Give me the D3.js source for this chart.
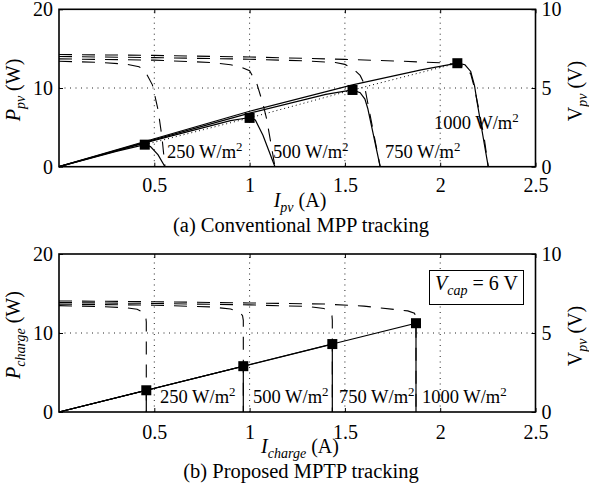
<!DOCTYPE html>
<html>
<head>
<meta charset="utf-8">
<script src="https://cdn.jsdelivr.net/npm/d3@7"></script>
<style>
  body { margin: 0; background: #fff; }
  text { font-family: "Liberation Serif", "Times New Roman", serif; fill: #000; white-space: pre; }
</style>
</head>
<body>
<div class="chart"></div>
<script>
// ticks
const xTicks = [0.5, 1, 1.5, 2, 2.5];
const pTicks = [0, 10, 20];
const vTicks = [0, 5, 10];
const gridX = [0.5, 1, 1.5, 2];
const gridP = [10];
const irradiance = ["250", "500", "750", "1000"];

// (a) conventional MPP tracking, power curves [I (A), P (W)]
const pConv250 = [[0, 0], [0.3, 1.95], [0.45, 2.8], [0.48, 2.55], [0.52, 1.5], [0.556, 0]];
const pConv500 = [[0, 0], [0.5, 3.35], [0.9, 5.85], [1.0, 6.25], [1.03, 5.95], [1.07, 4.0], [1.133, 0]];
const pConv750 = [[0, 0], [0.5, 3.45], [1.0, 6.8], [1.4, 9.2], [1.54, 9.75], [1.58, 9.4], [1.605, 8.6], [1.62, 7.4], [1.685, 0]];
const pConv1000 = [[0, 0], [0.5, 3.55], [1.0, 7.05], [1.54, 10.4], [1.9, 12.3], [2.09, 13.15], [2.13, 12.95], [2.16, 12.1], [2.18, 10.3], [2.195, 8.0], [2.252, 0]];
// voltage curves [I (A), V (V)]
const vConv250 = [[0, 6.7], [0.2, 6.63], [0.35, 6.52], [0.42, 6.35], [0.45, 6.1], [0.49, 5.2], [0.52, 3.6], [0.54, 1.9], [0.556, 0]];
const vConv500 = [[0, 6.85], [0.5, 6.77], [0.8, 6.62], [0.9, 6.48], [0.96, 6.3], [1.0, 6.1], [1.04, 5.2], [1.07, 4.0], [1.09, 3.0], [1.133, 0]];
const vConv750 = [[0, 7.0], [0.5, 6.93], [1.0, 6.83], [1.3, 6.72], [1.45, 6.62], [1.5, 6.5], [1.54, 6.25], [1.58, 5.8], [1.6, 5.3], [1.64, 2.8], [1.685, 0]];
const vConv1000 = [[0, 7.13], [0.5, 7.07], [1.0, 6.97], [1.5, 6.82], [1.8, 6.7], [2.0, 6.6], [2.09, 6.5], [2.13, 6.35], [2.16, 5.9], [2.18, 5.0], [2.2, 3.8], [2.23, 1.9], [2.252, 0]];
const mppConvI = [0.45, 1.0, 1.54, 2.09];
const mppConvP = [2.8, 6.2, 9.75, 13.15];

// (b) proposed MPTP tracking
const pProp250 = [[0, 0], [0.458, 2.75], [0.458, 0]];
const pProp500 = [[0, 0], [0.967, 5.8], [0.967, 0]];
const pProp750 = [[0, 0], [1.434, 8.6], [1.434, 0]];
const pProp1000 = [[0, 0], [1.873, 11.24], [1.873, 0]];
const vProp250 = [[0, 6.73], [0.2, 6.68], [0.35, 6.6], [0.41, 6.5], [0.44, 6.32], [0.455, 6.05], [0.458, 5.7], [0.458, 0]];
const vProp500 = [[0, 6.83], [0.5, 6.76], [0.8, 6.65], [0.9, 6.52], [0.945, 6.35], [0.963, 6.1], [0.967, 5.8], [0.967, 0]];
const vProp750 = [[0, 6.93], [0.5, 6.87], [1.0, 6.78], [1.3, 6.68], [1.39, 6.55], [1.42, 6.35], [1.432, 6.1], [1.434, 5.8], [1.434, 0]];
const vProp1000 = [[0, 7.03], [0.5, 6.98], [1.0, 6.9], [1.4, 6.83], [1.6, 6.7], [1.83, 6.4], [1.865, 6.25], [1.873, 6.0], [1.873, 0]];
const mptpI = [0.458, 0.967, 1.434, 1.873];
const mptpP = [2.75, 5.8, 8.6, 11.24];

const width = 589;
const height = 489;
const fs = 20;

const svg = d3.select(".chart").append("svg")
  .attr("width", width)
  .attr("height", height);

function rich(sel, parts, size) {
  let shift = 0;
  parts.forEach(function(p) {
    const s = p.sub ? size * 0.27 : p.sup ? -size * 0.4 : 0;
    const ts = sel.append("tspan").text(p.t)
      .attr("dy", s - shift)
      .attr("font-size", (p.sub || p.sup) ? size * 0.7 : size);
    if (p.it) ts.attr("font-style", "italic");
    shift = s;
  });
}

function panel(o) {
  const x = d3.scaleLinear().domain([0, 2.5]).range([59, 535.5]);
  const y = d3.scaleLinear().domain([0, 20]).range([o.y0, o.y1]);
  const yv = d3.scaleLinear().domain([0, 10]).range([o.y0, o.y1]);
  const g = svg.append("g");

  // grid
  g.selectAll(".gx").data(gridX).enter().append("line")
    .attr("x1", d => x(d)).attr("x2", d => x(d))
    .attr("y1", o.y0).attr("y2", o.y1)
    .attr("stroke", "#222").attr("stroke-width", 1).attr("stroke-dasharray", "1,4.5");
  g.selectAll(".gy").data(gridP).enter().append("line")
    .attr("x1", x(0)).attr("x2", x(2.5))
    .attr("y1", d => y(d)).attr("y2", d => y(d))
    .attr("stroke", "#222").attr("stroke-width", 1).attr("stroke-dasharray", "1,4.5");

  // axes
  function style(a) {
    a.attr("font-size", fs).attr("font-family", "Liberation Serif");
    a.select(".domain").remove();
    a.selectAll(".tick line").attr("stroke-width", 1);
  }
  g.append("g").attr("transform", "translate(0," + o.y0 + ")")
    .call(d3.axisBottom(x).tickValues(xTicks).tickSize(-4).tickPadding(o.xPad).tickFormat(d => String(d)))
    .call(style);
  g.append("g").attr("transform", "translate(0," + o.y1 + ")")
    .call(d3.axisTop(x).tickValues(xTicks).tickSize(-4).tickFormat(""))
    .call(style);
  g.append("g").attr("transform", "translate(59,0)")
    .call(d3.axisLeft(y).tickValues(pTicks).tickSize(-4).tickPadding(6))
    .call(style);
  g.append("g").attr("transform", "translate(535.5,0)")
    .call(d3.axisRight(yv).tickValues(vTicks).tickSize(-4).tickPadding(6))
    .call(style);

  g.append("rect")
    .attr("x", x(0)).attr("y", o.y1)
    .attr("width", x(2.5) - x(0)).attr("height", o.y0 - o.y1)
    .attr("fill", "none").attr("stroke", "#000").attr("stroke-width", 1.6);

  const lineP = d3.line().x(d => x(d[0])).y(d => y(d[1]));
  const lineV = d3.line().x(d => x(d[0])).y(d => yv(d[1]));

  g.selectAll(".vcurve").data(o.vCurves).enter().append("path")
    .attr("d", lineV)
    .attr("fill", "none").attr("stroke", "#000").attr("stroke-width", 1.1)
    .attr("stroke-dasharray", "13,10");

  if (o.locus) {
    g.append("path")
      .attr("d", lineP(o.mppI.map((d, i) => [d, o.mppP[i]])))
      .attr("fill", "none").attr("stroke", "#000").attr("stroke-width", 1)
      .attr("stroke-dasharray", "1,3");
  }

  g.selectAll(".pcurve").data(o.pCurves).enter().append("path")
    .attr("d", lineP)
    .attr("fill", "none").attr("stroke", "#000").attr("stroke-width", 1.2);

  g.selectAll(".mpp").data(o.mppI).enter().append("rect")
    .attr("x", d => x(d) - 5)
    .attr("y", (d, i) => y(o.mppP[i]) - 5)
    .attr("width", 10).attr("height", 10)
    .attr("fill", "#000");

  // irradiance labels
  irradiance.forEach(function(r, i) {
    const t = g.append("text")
      .attr("x", x(o.labelPos[i][0]))
      .attr("y", y(o.labelPos[i][1]));
    rich(t, [{ t: r + " W/m" }, { t: "2", sup: true }], 18.5);
  });

  // axis labels
  const xl = g.append("text").attr("x", 300).attr("y", o.y0 + o.xLabelOff).attr("text-anchor", "middle");
  rich(xl, [{ t: "I", it: true }, { t: o.sub, it: true, sub: true }, { t: " (A)" }], fs);

  const yl = g.append("text")
    .attr("transform", "translate(20," + ((o.y0 + o.y1) / 2 + 2) + ") rotate(-90)")
    .attr("text-anchor", "middle");
  rich(yl, [{ t: "P", it: true }, { t: o.sub, it: true, sub: true }, { t: " (W)" }], fs);

  const yr = g.append("text")
    .attr("transform", "translate(582," + ((o.y0 + o.y1) / 2 + 3) + ") rotate(-90)")
    .attr("text-anchor", "middle");
  rich(yr, [{ t: "V" }, { t: "pv", it: true, sub: true }, { t: " (V)" }], fs);

  g.append("text")
    .attr("x", 301).attr("y", o.y0 + o.titleOff)
    .attr("text-anchor", "middle")
    .attr("font-size", 20.5)
    .text(o.title);

  return { x: x, y: y };
}

panel({
  y0: 166.7, y1: 9.3, xPad: 11.5, xLabelOff: 40, titleOff: 65,
  sub: "pv",
  pCurves: [pConv250, pConv500, pConv750, pConv1000],
  vCurves: [vConv250, vConv500, vConv750, vConv1000],
  mppI: mppConvI, mppP: mppConvP, locus: true,
  labelPos: [[0.567, 1.1], [1.123, 1.1], [1.71, 1.1], [1.967, 4.8]],
  title: "(a) Conventional MPP tracking"
});

panel({
  y0: 412, y1: 254, xPad: 13, xLabelOff: 41, titleOff: 66,
  sub: "charge",
  pCurves: [pProp250, pProp500, pProp750, pProp1000],
  vCurves: [vProp250, vProp500, vProp750, vProp1000],
  mppI: mptpI, mppP: mptpP, locus: false,
  labelPos: [[0.53, 1.14], [1.018, 1.14], [1.469, 1.14], [1.904, 1.14]],
  title: "(b) Proposed MPTP tracking"
});

// V_cap box
svg.append("rect")
  .attr("x", 429.5).attr("y", 270.5)
  .attr("width", 94).attr("height", 34)
  .attr("fill", "#fff").attr("stroke", "#000").attr("stroke-width", 1);
const vc = svg.append("text").attr("x", 476.5).attr("y", 290).attr("text-anchor", "middle");
rich(vc, [{ t: "V", it: true }, { t: "cap", it: true, sub: true }, { t: " = 6 V" }], fs);
</script>
</body>
</html>
